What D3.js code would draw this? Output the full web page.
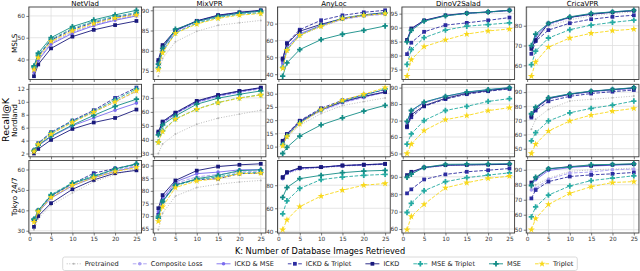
<!DOCTYPE html>
<html>
<head>
<meta charset="utf-8">
<script src="https://cdn.jsdelivr.net/npm/d3@7"></script>
<style>
  body { margin: 0; background: #fff; }
  svg { display: block; font-family: "DejaVu Sans", sans-serif; }
</style>
</head>
<body>
<svg id="chart" width="640" height="271"></svg>
<script>
// step 1: data
// =================================
var kValues = [1, 2, 5, 10, 15, 20, 25];
var xTicks = [0, 5, 10, 15, 20, 25];
var models = ["NetVlad", "MixVPR", "AnyLoc", "DinoV2Salad", "CricaVPR"];
var datasets = ["MSLS", "Nordland", "Tokyo 24/7"];
var seriesNames = ["Pretrained", "Composite Loss", "ICKD & MSE", "ICKD & Triplet",
                   "ICKD", "MSE & Triplet", "MSE", "Triplet"];

// recall@K, one row per series (same order as seriesNames)
var netvladMsls = [
  [35.0, 40.5, 48.0, 53.0, 56.0, 58.5, 60.0],
  [34.5, 40.0, 47.5, 52.5, 55.8, 58.3, 60.2],
  [34.0, 39.5, 47.0, 52.0, 55.5, 58.0, 60.0],
  [36.0, 41.5, 48.8, 53.8, 57.0, 59.3, 61.0],
  [32.3, 37.7, 45.1, 50.5, 53.6, 55.8, 57.7],
  [36.5, 42.0, 49.2, 54.3, 57.5, 59.8, 61.5],
  [37.0, 42.9, 50.0, 55.1, 58.2, 60.5, 62.6],
  [35.3, 40.8, 48.3, 53.2, 56.5, 59.0, 60.5]
];
var mixvprMsls = [
  [73.7, 78.1, 82.2, 84.8, 86.3, 86.9, 87.5],
  [76.0, 80.0, 84.6, 87.0, 88.4, 89.2, 89.7],
  [76.5, 80.5, 84.9, 87.3, 88.7, 89.5, 89.9],
  [77.2, 81.0, 85.0, 87.3, 88.7, 89.4, 89.9],
  [77.7, 81.4, 85.1, 87.4, 88.8, 89.5, 90.0],
  [75.8, 79.8, 84.4, 86.8, 88.2, 89.0, 89.4],
  [76.7, 80.6, 85.3, 87.2, 88.5, 89.3, 89.8],
  [75.3, 79.5, 84.3, 86.6, 88.0, 88.8, 89.2]
];
var anylocMsls = [
  [44.5, 54.0, 63.0, 68.0, 72.5, 74.5, 75.8],
  [45.5, 55.0, 63.5, 68.5, 72.5, 74.5, 75.5],
  [46.7, 56.0, 64.0, 69.0, 73.0, 75.0, 76.0],
  [48.5, 58.5, 66.4, 72.0, 74.9, 76.7, 77.9],
  [49.3, 58.0, 65.5, 69.6, 73.0, 75.2, 76.5],
  [44.0, 54.5, 63.3, 68.8, 73.3, 75.2, 76.3],
  [38.8, 46.7, 54.6, 60.5, 63.7, 66.0, 68.6],
  [43.4, 54.2, 63.1, 68.4, 73.0, 74.9, 75.9]
];
var dinoMsls = [
  [85.0, 89.2, 92.4, 94.2, 95.0, 95.5, 96.0],
  [85.2, 89.4, 92.5, 94.3, 95.1, 95.5, 96.1],
  [85.4, 89.5, 92.5, 94.3, 95.1, 95.6, 96.1],
  [80.5, 84.6, 88.5, 90.9, 91.7, 92.6, 93.6],
  [85.6, 89.7, 92.6, 94.4, 95.2, 95.6, 96.2],
  [76.8, 82.1, 86.4, 89.1, 90.5, 91.1, 91.7],
  [84.9, 89.0, 92.3, 94.2, 95.1, 95.6, 96.2],
  [72.6, 78.5, 83.2, 85.6, 87.7, 88.8, 89.5]
];
var cricaMsls = [
  [68.0, 73.0, 79.5, 83.0, 85.0, 86.2, 87.0],
  [69.0, 74.0, 80.5, 84.0, 85.8, 86.8, 87.5],
  [69.5, 75.0, 81.0, 84.3, 86.0, 87.0, 87.7],
  [65.8, 72.2, 77.8, 81.3, 83.3, 84.5, 85.3],
  [68.3, 72.8, 81.2, 84.2, 85.8, 86.8, 87.6],
  [60.3, 67.2, 73.8, 78.0, 80.3, 81.7, 82.8],
  [70.0, 75.8, 81.2, 84.5, 86.2, 87.0, 87.8],
  [54.5, 61.7, 69.2, 73.8, 76.2, 77.5, 78.3]
];

var netvladNordland = [
  [2.4, 3.5, 5.1, 7.0, 8.6, 10.2, 11.8],
  [2.4, 3.4, 5.0, 6.9, 8.4, 10.0, 11.6],
  [2.3, 3.2, 4.6, 6.3, 7.5, 8.7, 9.8],
  [2.5, 3.6, 5.3, 7.1, 8.7, 10.6, 12.2],
  [2.0, 2.7, 4.1, 5.8, 6.8, 7.5, 8.8],
  [2.5, 3.5, 5.2, 7.0, 8.5, 10.3, 12.0],
  [2.4, 3.3, 4.7, 6.4, 7.9, 9.3, 10.4],
  [2.3, 3.4, 5.0, 6.8, 8.4, 10.0, 11.7]
];
var mixvprNordland = [
  [30.2, 37.0, 44.1, 51.2, 55.5, 58.4, 61.2],
  [44.0, 51.5, 58.5, 66.5, 71.0, 74.0, 76.5],
  [44.5, 52.0, 58.8, 67.0, 71.5, 74.5, 77.0],
  [45.0, 52.5, 59.0, 67.5, 71.8, 74.8, 77.2],
  [45.9, 53.1, 59.5, 67.9, 72.1, 75.0, 77.4],
  [38.5, 46.5, 55.0, 62.0, 66.8, 70.0, 72.3],
  [43.6, 50.7, 57.1, 65.5, 69.8, 72.6, 75.0],
  [38.1, 45.9, 54.8, 61.9, 66.6, 69.8, 72.1]
];
var anylocNordland = [
  [10.5, 13.5, 18.0, 22.5, 25.5, 27.0, 28.4],
  [11.0, 14.0, 19.0, 23.5, 26.5, 28.5, 30.5],
  [11.0, 14.2, 19.2, 23.8, 26.8, 28.8, 30.8],
  [12.0, 14.8, 19.8, 24.5, 27.5, 29.6, 31.5],
  [12.2, 14.6, 19.5, 24.0, 27.0, 29.0, 30.6],
  [10.8, 14.0, 19.0, 24.0, 27.3, 29.4, 31.8],
  [7.4, 9.7, 14.0, 18.2, 20.9, 23.4, 25.6],
  [10.3, 13.8, 18.6, 24.0, 27.5, 29.8, 32.3]
];
var dinoNordland = [
  [68.0, 75.0, 80.5, 84.3, 86.8, 88.3, 89.5],
  [68.5, 75.5, 80.8, 84.5, 87.0, 88.5, 89.7],
  [69.0, 76.0, 81.0, 84.7, 87.2, 88.7, 89.9],
  [65.9, 72.0, 78.6, 83.0, 86.0, 87.8, 89.2],
  [66.5, 73.5, 79.0, 83.5, 86.5, 88.2, 89.6],
  [55.7, 61.9, 70.0, 76.1, 78.6, 81.6, 83.3],
  [69.5, 76.1, 81.2, 84.7, 87.3, 88.8, 90.0],
  [50.0, 55.7, 63.9, 70.5, 73.0, 76.0, 77.8]
];
var cricaNordland = [
  [63.7, 70.8, 77.8, 83.7, 84.9, 86.0, 87.2],
  [73.0, 78.0, 85.0, 88.0, 90.0, 91.2, 92.3],
  [74.5, 79.0, 85.8, 88.6, 90.5, 91.7, 92.8],
  [72.0, 77.0, 83.5, 87.0, 89.0, 90.3, 91.5],
  [73.1, 78.5, 85.5, 88.5, 90.5, 91.8, 93.0],
  [55.5, 61.3, 69.6, 75.4, 78.5, 80.8, 83.7],
  [74.7, 79.4, 86.0, 88.8, 90.7, 91.9, 93.2],
  [46.6, 53.2, 62.5, 69.6, 73.8, 76.5, 78.5]
];

var netvladTokyo = [
  [30.5, 36.0, 42.5, 48.5, 54.0, 57.5, 60.5],
  [34.5, 39.5, 46.5, 52.5, 56.5, 59.5, 62.0],
  [35.0, 39.0, 46.0, 52.0, 56.0, 59.0, 61.5],
  [35.5, 40.0, 47.0, 53.0, 58.2, 60.5, 62.5],
  [31.9, 37.2, 43.5, 50.3, 54.9, 58.2, 59.6],
  [35.8, 40.0, 47.7, 53.5, 57.0, 60.0, 62.6],
  [35.4, 39.8, 47.3, 53.2, 56.5, 60.3, 62.8],
  [34.2, 39.3, 46.3, 52.3, 56.0, 59.0, 61.0]
];
var mixvprTokyo = [
  [64.6, 71.1, 77.9, 81.3, 82.6, 83.5, 84.1],
  [71.0, 76.5, 83.0, 85.5, 86.5, 87.5, 87.8],
  [71.8, 77.0, 83.5, 86.8, 87.4, 88.3, 88.4],
  [70.5, 76.0, 82.5, 84.4, 84.8, 86.8, 87.0],
  [73.1, 78.3, 84.1, 88.0, 89.6, 90.3, 90.7],
  [69.8, 75.8, 82.0, 84.5, 85.5, 87.0, 87.3],
  [69.2, 75.7, 82.2, 84.8, 86.1, 88.0, 88.3],
  [67.9, 73.7, 81.3, 83.9, 84.8, 86.8, 87.0]
];
var anylocTokyo = [
  [85.0, 90.0, 93.5, 95.0, 96.5, 97.2, 98.0],
  [85.7, 90.5, 94.3, 95.5, 96.8, 97.5, 98.2],
  [86.0, 90.8, 94.6, 95.6, 97.0, 97.6, 98.3],
  [86.5, 91.0, 94.8, 95.7, 97.0, 97.8, 98.4],
  [87.1, 91.4, 95.2, 95.7, 97.2, 97.8, 98.6],
  [55.1, 66.5, 77.2, 84.9, 87.1, 88.6, 89.4],
  [69.4, 78.0, 85.7, 88.6, 90.9, 92.3, 92.9],
  [41.4, 50.0, 61.4, 70.6, 75.7, 80.0, 81.5]
];
var dinoTokyo = [
  [89.5, 92.0, 95.0, 96.5, 96.8, 97.0, 97.2],
  [90.0, 92.3, 95.2, 96.7, 97.0, 97.1, 97.3],
  [90.3, 92.5, 95.3, 96.7, 97.0, 97.2, 97.4],
  [80.5, 82.8, 88.5, 91.4, 92.9, 93.8, 94.8],
  [91.0, 92.9, 95.4, 96.7, 96.8, 97.0, 97.2],
  [69.5, 74.8, 82.0, 87.2, 89.5, 91.0, 92.3],
  [89.7, 91.5, 95.4, 97.2, 97.3, 97.4, 97.5],
  [59.6, 67.2, 74.2, 83.7, 86.6, 89.1, 90.4]
];
var cricaTokyo = [
  [77.6, 80.0, 84.4, 88.9, 90.0, 90.5, 91.1],
  [76.5, 77.6, 83.7, 87.8, 88.5, 90.0, 90.5],
  [80.0, 83.3, 89.5, 91.5, 92.5, 93.0, 93.5],
  [70.9, 76.5, 82.1, 85.5, 86.6, 87.3, 88.2],
  [81.5, 84.4, 90.5, 92.2, 92.7, 93.4, 93.8],
  [58.5, 65.2, 73.1, 79.2, 82.8, 84.4, 86.0],
  [79.5, 85.0, 90.8, 91.8, 93.4, 93.6, 94.0],
  [50.0, 57.4, 66.9, 74.3, 78.7, 81.5, 82.1]
];

var yTicksMsls = [[40, 50, 60], [75, 80, 85, 90], [40, 50, 60, 70], [75, 80, 85, 90, 95], [60, 70, 80]];
var yTicksNordland = [[2, 4, 6, 8, 10, 12], [30, 40, 50, 60, 70], [10, 15, 20, 25, 30], [50, 60, 70, 80, 90], [50, 60, 70, 80, 90]];
var yTicksTokyo = [[30, 40, 50, 60], [65, 70, 75, 80, 85, 90], [40, 60, 80], [60, 70, 80, 90], [50, 60, 70, 80, 90]];

var panelValues = [
  [netvladMsls, mixvprMsls, anylocMsls, dinoMsls, cricaMsls],
  [netvladNordland, mixvprNordland, anylocNordland, dinoNordland, cricaNordland],
  [netvladTokyo, mixvprTokyo, anylocTokyo, dinoTokyo, cricaTokyo]
];
var panelTicks = [yTicksMsls, yTicksNordland, yTicksTokyo];

// step 2: styles
// =================================
var seriesColors = ["#b4b4b4", "#a89ef2", "#7b6cee", "#2c2ca0", "#19197c", "#25aaa2", "#138c86", "#f8d81a"];
var seriesDash = ["1,1.6", "3.6,1.6", null, "3.6,1.6", null, "3.6,1.6", null, "3.6,1.6"];
var seriesMarker = ["dot", "circle", "circle", "square", "square", "plus", "plus", "star"];

var symbolFor = {
  dot: d3.symbol().type(d3.symbolCircle).size(3),
  circle: d3.symbol().type(d3.symbolCircle).size(10),
  square: d3.symbol().type(d3.symbolSquare).size(14),
  plus: d3.symbol().type(d3.symbolCross).size(16),
  star: d3.symbol().type(d3.symbolStar).size(15)
};

var svg = d3.select("#chart");

var panelW = 112.7;
var panelH = 72.5;
var colLeft = [28.85, 153.2, 277.55, 401.9, 526.25];
var rowTop = [7, 84.3, 160.5];

// step 3: panels
// =================================
panelValues.forEach(function(row, r) {
  row.forEach(function(values, c) {
    var g = svg.append("g")
      .attr("transform", `translate(${colLeft[c]}, ${rowTop[r]})`);

    var x = d3.scaleLinear().domain([-0.2, 26.2]).range([0, panelW]);
    var ext = d3.extent(d3.merge(values));
    var pad = (ext[1] - ext[0]) * 0.05;
    var y = d3.scaleLinear().domain([ext[0] - pad, ext[1] + pad]).range([panelH, 0]);
    var ticks = panelTicks[r][c];

    // grid
    g.selectAll(".vgrid").data(xTicks).enter().append("line")
      .attr("x1", d => x(d)).attr("x2", d => x(d))
      .attr("y1", 0).attr("y2", panelH)
      .attr("stroke", "#dedede").attr("stroke-width", 0.8);
    g.selectAll(".hgrid").data(ticks).enter().append("line")
      .attr("x1", 0).attr("x2", panelW)
      .attr("y1", d => y(d)).attr("y2", d => y(d))
      .attr("stroke", "#dedede").attr("stroke-width", 0.8);

    // axes
    var leftAxis = d3.axisLeft(y).tickValues(ticks).tickSize(2.5).tickPadding(1.5);
    var bottomAxis = d3.axisBottom(x).tickValues(xTicks).tickSize(2.5).tickPadding(1.8);
    if (r < 2) bottomAxis.tickFormat("");

    var ya = g.append("g").call(leftAxis);
    var xa = g.append("g").attr("transform", `translate(0, ${panelH})`).call(bottomAxis);
    [ya, xa].forEach(function(a) {
      a.select(".domain").remove();
      a.selectAll("line").attr("stroke", "#444").attr("stroke-width", 0.7);
      a.selectAll("text").attr("fill", "#333").style("font-size", "5.8px")
        .style("font-family", "DejaVu Sans, sans-serif");
    });

    // series
    values.forEach(function(vals, s) {
      var pts = kValues.map((k, i) => [k, vals[i]]);
      var line = d3.line().x(d => x(d[0])).y(d => y(d[1]));
      g.append("path")
        .attr("d", line(pts))
        .attr("fill", "none")
        .attr("stroke", seriesColors[s])
        .attr("stroke-width", 0.9)
        .attr("stroke-dasharray", seriesDash[s]);
      g.selectAll(".m" + s).data(pts).enter().append("path")
        .attr("transform", d => `translate(${x(d[0])}, ${y(d[1])})`)
        .attr("d", symbolFor[seriesMarker[s]]())
        .attr("fill", seriesColors[s]);
    });

    // frame
    g.append("rect")
      .attr("width", panelW).attr("height", panelH)
      .attr("fill", "none").attr("stroke", "#3a3a3a").attr("stroke-width", 0.9);

    if (r === 0) {
      g.append("text")
        .attr("x", panelW / 2).attr("y", -1)
        .attr("text-anchor", "middle")
        .style("font-size", "7px")
        .text(models[c]);
    }
    if (c === 0) {
      g.append("text")
        .attr("transform", `translate(${-12}, ${panelH / 2}) rotate(-90)`)
        .attr("text-anchor", "middle")
        .style("font-size", "7.2px")
        .text(datasets[r]);
    }
  });
});

// step 4: labels
// =================================
svg.append("text")
  .attr("transform", "translate(9, 120) rotate(-90)")
  .attr("text-anchor", "middle")
  .style("font-size", "9.5px")
  .text("Recall@K");

svg.append("text")
  .attr("x", 320).attr("y", 254)
  .attr("text-anchor", "middle")
  .style("font-size", "8.2px")
  .text("K: Number of Database Images Retrieved");

// step 5: legend
// =================================
var legend = svg.append("g");
var box = legend.append("rect")
  .attr("y", 257).attr("height", 13.5).attr("rx", 2)
  .attr("fill", "#fff").attr("stroke", "#d0d0d0").attr("stroke-width", 0.8);

var handleW = 14, textGap = 4, itemGap = 14;
var cursor = 0;
var items = seriesNames.map(function(name, s) {
  var item = legend.append("g");
  item.append("line")
    .attr("x1", 0).attr("x2", handleW).attr("y1", 0).attr("y2", 0)
    .attr("stroke", seriesColors[s]).attr("stroke-width", 0.9)
    .attr("stroke-dasharray", seriesDash[s]);
  item.append("path")
    .attr("transform", `translate(${handleW / 2}, 0)`)
    .attr("d", symbolFor[seriesMarker[s]]())
    .attr("fill", seriesColors[s]);
  var t = item.append("text")
    .attr("x", handleW + textGap).attr("y", 0).attr("dy", "0.35em")
    .attr("fill", "#222")
    .style("font-size", "6.6px")
    .text(name);
  var w = handleW + textGap + t.node().getComputedTextLength();
  var pos = cursor;
  cursor += w + itemGap;
  return { node: item, pos: pos };
});
var total = cursor - itemGap;
var startX = 320 - total / 2;
items.forEach(function(it) {
  it.node.attr("transform", `translate(${startX + it.pos}, 263.8)`);
});
box.attr("x", startX - 4).attr("width", total + 8);
</script>
</body>
</html>
